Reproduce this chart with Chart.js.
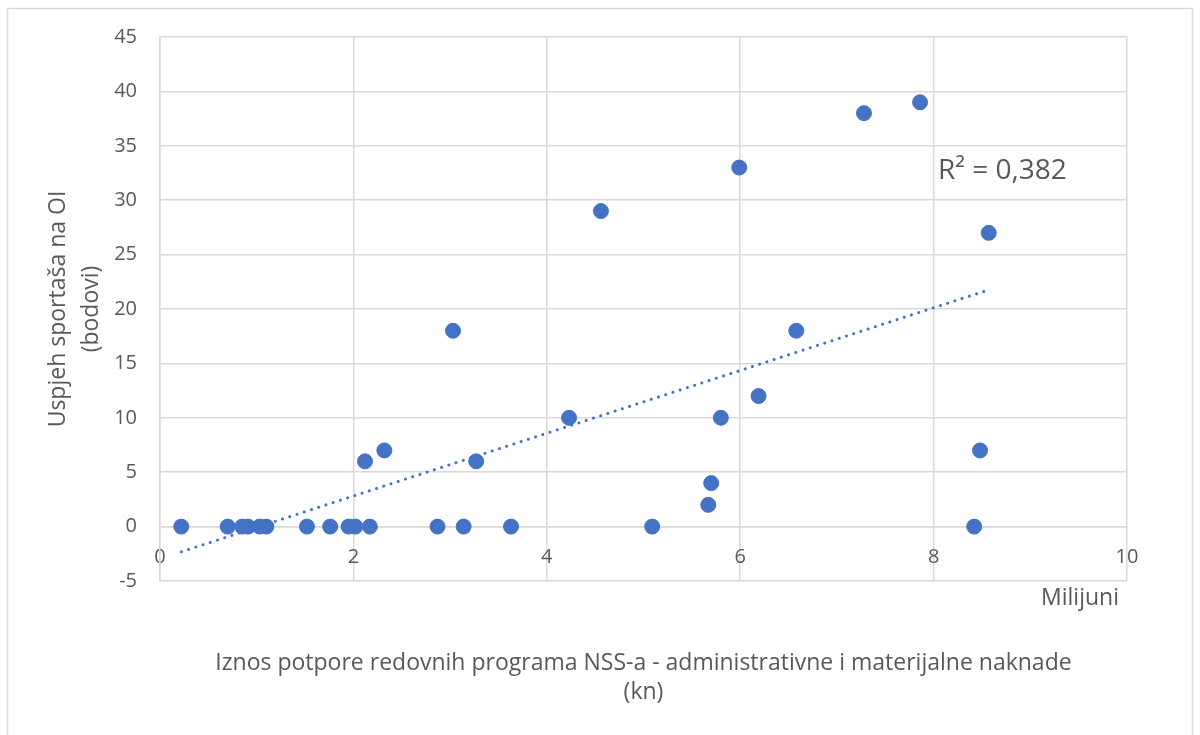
<!DOCTYPE html>
<html>
<head>
<meta charset="utf-8">
<script src="https://cdn.jsdelivr.net/npm/chart.js@4.4.0/dist/chart.umd.min.js"></script>
<style>
html,body{margin:0;padding:0;background:#fff;}
#wrap{position:relative;width:1200px;height:735px;}
canvas{display:block;}
</style>
</head>
<body>
<div id="wrap"><canvas id="c" width="1200" height="735"></canvas></div>
<script>
// Data (x in millions kn, y = points)
const xValues = [0.22,0.70,0.85,0.91,1.03,1.10,1.52,1.76,1.95,2.02,2.17,2.87,3.14,3.63,5.09,8.42,
                 2.12,2.32,3.03,3.27,4.23,4.56,5.67,5.70,5.80,5.99,6.19,6.58,7.28,7.86,8.57,8.48];
const yValues = [0,0,0,0,0,0,0,0,0,0,0,0,0,0,0,0,
                 6,7,18,6,10,29,2,4,10,33,12,18,38,39,27,7];
const xTicks = [0,2,4,6,8,10];
const yTicks = [-5,0,5,10,15,20,25,30,35,40,45];
const xTitleLines = ['Iznos potpore redovnih programa NSS-a - administrativne i materijalne naknade','(kn)'];
const yTitleLines = ['Uspjeh sportaša na OI','(bodovi)'];
const unitLabel = 'Milijuni';
const r2Label = 'R² = 0,382';

const points = xValues.map((x,i)=>({x:x,y:yValues[i]}));
// linear trend line (least squares)
const n = xValues.length;
const mx = xValues.reduce((a,b)=>a+b,0)/n;
const my = yValues.reduce((a,b)=>a+b,0)/n;
let sxy=0,sxx=0;
for(let i=0;i<n;i++){sxy+=(xValues[i]-mx)*(yValues[i]-my);sxx+=(xValues[i]-mx)**2;}
const slope = sxy/sxx, intercept = my-slope*mx;
const xmin = Math.min(...xValues), xmax = Math.max(...xValues);
const trend = [{x:xmin,y:intercept+slope*xmin},{x:xmax,y:intercept+slope*xmax}];

const FONT = "'Open Sans', 'Noto Sans', sans-serif";
const TXT = '#595959';
const BLUE = '#4472C4';
const GRID = '#d9d9d9';

const textPlugin = {
  id:'texts',
  beforeDraw(chart){
    const ctx = chart.ctx;
    ctx.save();
    ctx.strokeStyle = GRID; ctx.lineWidth = 1.5;
    ctx.strokeRect(7.5, 8.5, 1185, 740);
    ctx.restore();
  },
  afterDraw(chart){
    const ctx = chart.ctx, ca = chart.chartArea;
    ctx.save();
    ctx.fillStyle = TXT;
    ctx.textAlign='center'; ctx.textBaseline='middle';
    ctx.font = '23px ' + FONT;
    const cx = (ca.left+ca.right)/2;
    ctx.fillText(xTitleLines[0], cx, 663);
    ctx.fillText(xTitleLines[1], cx, 692);
    ctx.textAlign='right';
    ctx.fillText(unitLabel, ca.right-8, 598);
    // y title
    ctx.save();
    ctx.translate(0, (ca.top+ca.bottom)/2);
    ctx.rotate(-Math.PI/2);
    ctx.textAlign='center';
    ctx.fillText(yTitleLines[0], 0, 58);
    ctx.fillText(yTitleLines[1], 0, 91);
    ctx.restore();
    ctx.textAlign='left';
    ctx.font = '28px ' + FONT;
    ctx.fillText(r2Label, 938, 171);
    ctx.restore();
  }
};

new Chart(document.getElementById('c'), {
  type:'scatter',
  data:{datasets:[
    {data:points, backgroundColor:BLUE, borderColor:BLUE, pointRadius:7.5, pointHoverRadius:7.5, order:2},
    {type:'line', data:trend, borderColor:BLUE, borderWidth:3, borderDash:[0.1,7.5], borderCapStyle:'round',
     pointRadius:0, fill:false, showLine:true, order:1}
  ]},
  options:{
    responsive:false, animation:false,
    layout:{padding:{left:0,top:37,right:73,bottom:154}},
    plugins:{legend:{display:false}, tooltip:{enabled:false}},
    scales:{
      x:{type:'linear', min:0, max:10, position:{y:0},
         afterBuildTicks(s){s.ticks = xTicks.map(v=>({value:v}));},
         grid:{color:GRID, lineWidth:1.5, drawTicks:false},
         border:{color:GRID, width:1.5},
         ticks:{color:TXT, font:{family:FONT,size:20}, padding:19, maxRotation:0}},
      y:{type:'linear', min:-5, max:45,
         afterBuildTicks(s){s.ticks = yTicks.map(v=>({value:v}));},
         afterFit(s){s.width = 160;},
         grid:{color:GRID, lineWidth:1.5, drawTicks:false},
         border:{color:GRID, width:1.5},
         ticks:{color:TXT, font:{family:FONT,size:20}, padding:23}}
    }
  },
  plugins:[textPlugin]
});
</script>
</body>
</html>
